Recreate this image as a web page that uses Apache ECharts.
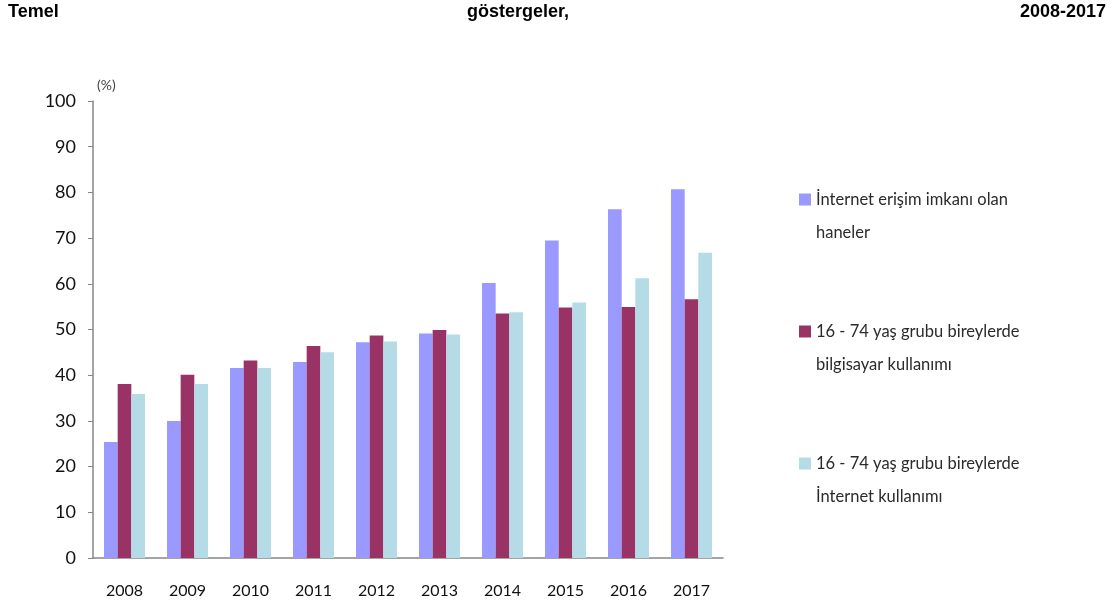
<!DOCTYPE html>
<html>
<head>
<meta charset="utf-8">
<script src="https://cdn.jsdelivr.net/npm/echarts@6/dist/echarts.min.js"></script>
<style>
html, body { margin: 0; padding: 0; background: #fff; }
#chart { width: 1114px; height: 616px; }
</style>
</head>
<body>
<div id="chart"></div>
<script>
// yillar ve gostergeler (%)
var years = ['2008', '2009', '2010', '2011', '2012', '2013', '2014', '2015', '2016', '2017'];
var haneInternet = [25.4, 30.0, 41.6, 42.9, 47.2, 49.1, 60.2, 69.5, 76.3, 80.7];
var bilgisayarKullanim = [38.1, 40.1, 43.2, 46.4, 48.7, 49.9, 53.5, 54.8, 54.9, 56.6];
var internetKullanim = [35.9, 38.1, 41.6, 45.0, 47.4, 48.9, 53.8, 55.9, 61.2, 66.8];

var seriesNames = [
	'İnternet erişim imkanı olan\nhaneler',
	'16 - 74 yaş grubu bireylerde\nbilgisayar kullanımı',
	'16 - 74 yaş grubu bireylerde\nİnternet kullanımı'
];
var colors = ['#9999ff', '#993366', '#b4dbe6'];

var font = 'Lato, "Open Sans", sans-serif';
var lineH = 33;
var titleStyle = { fontFamily: 'Liberation Sans', fontWeight: 'bold', fontSize: 18, color: '#000' };

var chart = echarts.init(document.getElementById('chart'));

var option = {
	animation: false,
	color: colors,
	title: [
		{ text: 'Temel', left: 8, top: 3, padding: 0, textStyle: titleStyle },
		{ text: 'göstergeler,', left: 467, top: 3, padding: 0, textStyle: titleStyle },
		{ text: '2008-2017', right: 8, top: 3, padding: 0, textStyle: titleStyle }
	],
	legend: {
		orient: 'vertical',
		left: 799,
		top: 150,
		padding: 0,
		icon: 'rect',
		itemWidth: 12,
		itemHeight: 12,
		itemGap: 33,
		selectedMode: false,
		data: seriesNames,
		// bos ilk satir: kare ilk satirla ayni hizada kalsin
		formatter: function(name) {
			return '\n' + name;
		},
		textStyle: {
			fontFamily: font,
			fontSize: 16.5,
			color: '#2b2b2b',
			lineHeight: lineH
		}
	},
	grid: {
		left: 93,
		right: 391,
		top: 101,
		bottom: 58
	},
	xAxis: {
		type: 'category',
		data: years,
		axisLine: { lineStyle: { color: '#868686', width: 1.5 } },
		axisTick: { show: false },
		axisLabel: { color: '#111', fontFamily: font, fontSize: 16, margin: 25 }
	},
	yAxis: {
		type: 'value',
		min: 0,
		max: 100,
		interval: 10,
		name: '(%)',
		nameLocation: 'end',
		nameGap: 9,
		nameTextStyle: { color: '#444', fontFamily: font, fontSize: 14, align: 'left', padding: [0, 0, 0, 4] },
		axisLine: { show: true, lineStyle: { color: '#868686', width: 1.5 } },
		axisTick: { show: true, length: 5, lineStyle: { color: '#868686' } },
		splitLine: { show: false },
		axisLabel: { color: '#111', fontFamily: font, fontSize: 18, margin: 17 }
	},
	series: [
		{ name: seriesNames[0], type: 'bar', data: haneInternet, barGap: '0%', barCategoryGap: '35%' },
		{ name: seriesNames[1], type: 'bar', data: bilgisayarKullanim, barGap: '0%', barCategoryGap: '35%' },
		{ name: seriesNames[2], type: 'bar', data: internetKullanim, barGap: '0%', barCategoryGap: '35%' }
	]
};

chart.setOption(option);
</script>
</body>
</html>
